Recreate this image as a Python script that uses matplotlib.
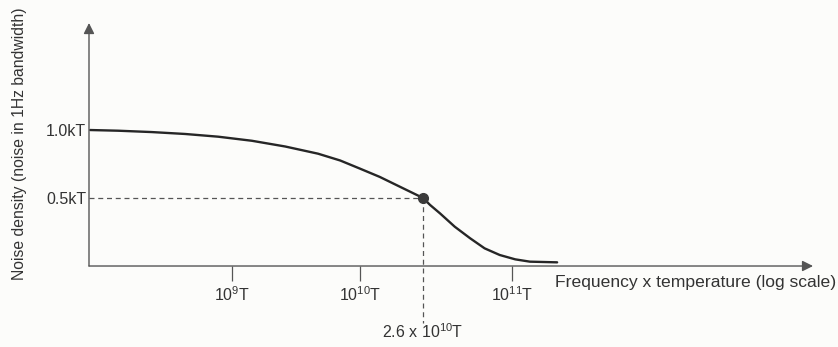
import matplotlib
matplotlib.use("Agg")
import matplotlib.pyplot as plt
import numpy as np

plt.rcParams['font.family'] = ['Liberation Sans', 'DejaVu Sans']

# curve (frequency x temperature, noise density in kT)
freq = [7.8e7, 1.29e8, 2.36e8, 4.3e8, 7.8e8, 1.43e9, 2.6e9, 4.7e9, 7.0e9,
        1.0e10, 1.35e10, 1.83e10, 2.6e10, 2.89e10, 3.36e10, 4.2e10, 5.3e10,
        6.6e10, 8.3e10, 1.05e11, 1.31e11, 1.98e11]
noise = [1.0, 0.995, 0.985, 0.971, 0.951, 0.921, 0.879, 0.826, 0.776,
         0.716, 0.655, 0.583, 0.5, 0.449, 0.387, 0.289, 0.204,
         0.130, 0.081, 0.049, 0.032, 0.027]

marked_freq = 2.6e10
marked_noise = 0.5

x_ticks = [1e9, 1e10, 1e11]
x_labels = [r'$\mathregular{10^{9}}$T', r'$\mathregular{10^{10}}$T', r'$\mathregular{10^{11}}$T']
y_ticks = [0.5, 1.0]
y_labels = ['0.5kT', '1.0kT']

ink = '#262626'
grey = '#555555'


# the drawn decades are not equal in width: 10^9..10^10 narrower than 10^10..10^11
def fwd(x):
    l = np.log10(np.maximum(x, 1e-30))
    return np.where(l < 10, l, 10 + (l - 10) * 152 / 128)


def inv(t):
    t = np.asarray(t, dtype=float)
    return np.where(t < 10, 10 ** t, 10 ** (10 + (t - 10) * 128 / 152))


fig = plt.figure(figsize=(8.38, 3.47), dpi=100)
fig.patch.set_facecolor('#fcfcfa')
ax = fig.add_axes([0.1062, 0.2334, 0.864, 0.7003])
ax.set_facecolor('none')
ax.set_xscale('function', functions=(fwd, inv))
ax.set_xlim(10 ** 7.883, 10 ** 12.98)
ax.set_ylim(0, 1.787)

for s in ax.spines.values():
    s.set_visible(False)

# axes with arrow heads
ax.annotate('', xy=(1, 0), xytext=(0, 0), xycoords='axes fraction',
            arrowprops=dict(arrowstyle='-|>', color=grey, lw=1.0, mutation_scale=16, shrinkA=0, shrinkB=0))
ax.annotate('', xy=(0, 1), xytext=(0, 0), xycoords='axes fraction',
            arrowprops=dict(arrowstyle='-|>', color=grey, lw=1.0, mutation_scale=16, shrinkA=0, shrinkB=0))

ax.plot(freq, noise, color=ink, lw=1.7, solid_capstyle='round', solid_joinstyle='round')

# dashed guides to the 0.5kT point
ax.plot([10 ** 7.883, marked_freq], [marked_noise, marked_noise], color=grey, lw=0.9,
        linestyle=(0, (4, 3)))
ax.plot([marked_freq, marked_freq], [marked_noise, -0.42], color=grey, lw=0.9,
        linestyle=(0, (4, 3)), clip_on=False)
ax.plot([marked_freq], [marked_noise], 'o', color='#3a3a3a', ms=7, zorder=5)
ax.text(marked_freq, -0.485, r'2.6 x $\mathregular{10^{10}}$T', ha='center', va='center',
        fontsize=11.5, color='#333333')

ax.set_xticks(x_ticks)
ax.set_xticklabels(x_labels)
ax.xaxis.set_minor_locator(matplotlib.ticker.NullLocator())
ax.tick_params(axis='x', direction='out', length=11, width=0.9, color=grey,
               labelsize=11.5, labelcolor='#333333', pad=3)
ax.set_yticks(y_ticks)
ax.set_yticklabels(y_labels)
ax.tick_params(axis='y', length=0, labelsize=11.5, labelcolor='#333333', pad=2)

fig.text(555 / 838, 1 - 283 / 347, 'Frequency x temperature (log scale)', ha='left', va='center',
         fontsize=12.6, color='#333333')
fig.text(20 / 838, 1 - 144 / 347, 'Noise density (noise in 1Hz bandwidth)', rotation=90,
         ha='center', va='center', fontsize=11.3, color='#333333')

fig.savefig('out.png', dpi=100, facecolor=fig.get_facecolor())
